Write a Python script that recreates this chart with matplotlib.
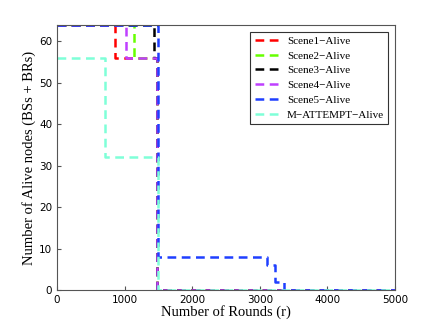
import numpy as np
import matplotlib.pyplot as plt

# step data: round where each level starts, and the level (alive nodes)
scene1_x = [0, 860, 1480, 5000]
scene1_y = [64, 56, 0, 0]
scene2_x = [0, 1140, 1480, 5000]
scene2_y = [64, 56, 0, 0]
scene3_x = [0, 1430, 1480, 5000]
scene3_y = [64, 56, 0, 0]
scene4_x = [0, 1020, 1480, 5000]
scene4_y = [64, 56, 0, 0]
scene5_x = [0, 1500, 3110, 3220, 3350, 5000]
scene5_y = [64, 8, 6, 2, 0, 0]
matt_x = [0, 710, 1490, 5000]
matt_y = [56, 32, 0, 0]

labels = ["Scene1-Alive", "Scene2-Alive", "Scene3-Alive", "Scene4-Alive",
          "Scene5-Alive", "M-ATTEMPT-Alive"]
series = [(scene1_x, scene1_y), (scene2_x, scene2_y), (scene3_x, scene3_y),
          (scene4_x, scene4_y), (scene5_x, scene5_y), (matt_x, matt_y)]
colors = ["#ff0000", "#66ff00", "#000000", "#bf3fff", "#1f3fff", "#7fffd8"]

fig = plt.figure(figsize=(4.36, 3.27), dpi=100)
ax = fig.add_axes([0.131, 0.113, 0.775, 0.811])

for (x, y), c, lab in zip(series, colors, labels):
    ax.plot(x, y, drawstyle="steps-post", color=c, lw=1.8,
            dashes=(3.5, 2.2), label=lab.replace("-", "\u2212"))

ax.set_xlim(0, 5000)
ax.set_ylim(0, 64)
ax.set_xticks(np.arange(0, 5001, 1000))
ax.set_yticks(np.arange(0, 61, 10))
ax.tick_params(direction="in", labelsize=7.5, length=3, color="#555555")
for s in ax.spines.values():
    s.set_color("#555555")
    s.set_linewidth(0.8)

ax.set_xlabel("Number of Rounds (r)", family="Liberation Serif", fontsize=10.5, labelpad=0)
ax.set_ylabel("Number of Alive nodes (BSs + BRs)", family="Liberation Serif", fontsize=10.5, labelpad=2)

leg = ax.legend(loc="upper right", prop={"family": "Liberation Serif", "size": 8},
                fancybox=False, edgecolor="#333333", framealpha=1,
                handlelength=2.4, handletextpad=0.5, borderaxespad=0.6,
                labelspacing=0.45, borderpad=0.4)
leg.get_frame().set_linewidth(0.8)

plt.savefig("out.png", dpi=100)
